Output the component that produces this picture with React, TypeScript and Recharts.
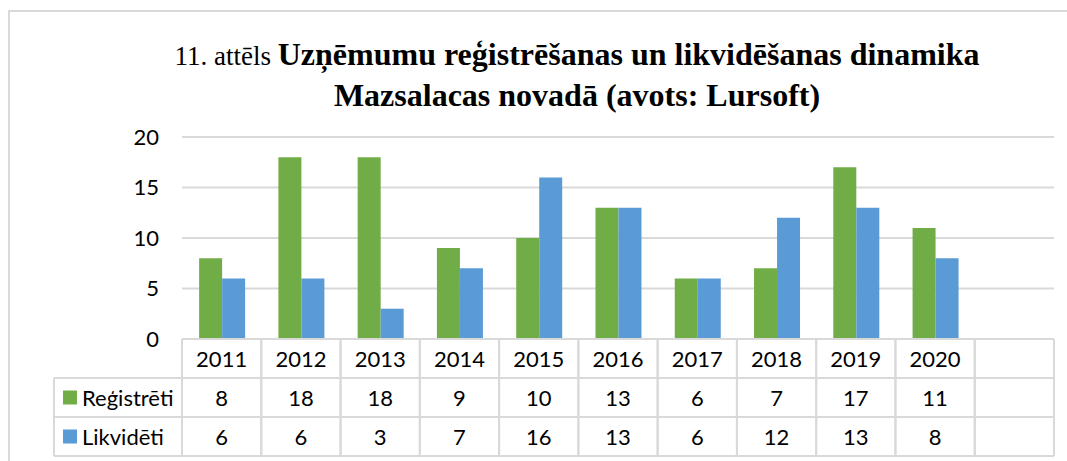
import React from 'react';
import { BarChart, Bar, XAxis, YAxis, CartesianGrid } from 'recharts';

const years = ['2011', '2012', '2013', '2014', '2015', '2016', '2017', '2018', '2019', '2020', ''];
const registreti = [8, 18, 18, 9, 10, 13, 6, 7, 17, 11, null];
const likvideti = [6, 6, 3, 7, 16, 13, 6, 12, 13, 8, null];
const yTicks = [0, 5, 10, 15, 20];

const seriesNames = ['Reģistrēti', 'Likvidēti'];
const colors = ['#70ad47', '#5b9bd5'];

const data = years.map((year, i) => ({
  year,
  registreti: registreti[i],
  likvideti: likvideti[i],
}));

const W = 1067;
const H = 461;
const margin = { top: 137, right: 13, left: 54, bottom: 5 };
const yAxisWidth = 128;
const xAxisHeight = 117;
const rowH = xAxisHeight / 3;
const colW = (W - margin.left - margin.right - yAxisWidth) / years.length;
const lineColor = '#d9d9d9';
const font = 'Lato, "Noto Sans", sans-serif';
const fs = 22;

function TableTick(props: any) {
  const { x, y, payload } = props;
  const i = payload.index;
  const left = x - colW / 2;
  const right = x + colW / 2;
  const values = [registreti[i], likvideti[i]];
  const legendLeft = left - yAxisWidth;

  return (
    <g>
      {[0, 1, 2, 3].map((r) => (
        <line key={'h' + r} x1={left} x2={right} y1={y + r * rowH} y2={y + r * rowH} stroke={lineColor} strokeWidth={2} />
      ))}
      <line x1={left} x2={left} y1={y} y2={y + xAxisHeight} stroke={lineColor} strokeWidth={2} />
      <line x1={right} x2={right} y1={y} y2={y + xAxisHeight} stroke={lineColor} strokeWidth={2} />
      <text x={x} y={y + rowH / 2} textAnchor="middle" dominantBaseline="central" fontSize={fs} fontFamily={font} fill="#000">
        {payload.value}
      </text>
      {values.map((v, r) => (
        <text key={'v' + r} x={x} y={y + rowH * (r + 1.5)} textAnchor="middle" dominantBaseline="central" fontSize={fs} fontFamily={font} fill="#000">
          {v == null ? '' : v}
        </text>
      ))}
      {i === 0 && (
        <g>
          {[1, 2, 3].map((r) => (
            <line key={'lh' + r} x1={legendLeft} x2={left} y1={y + r * rowH} y2={y + r * rowH} stroke={lineColor} strokeWidth={2} />
          ))}
          <line x1={legendLeft} x2={legendLeft} y1={y + rowH} y2={y + xAxisHeight} stroke={lineColor} strokeWidth={2} />
          {seriesNames.map((name, r) => (
            <g key={name}>
              <rect x={legendLeft + 9} y={y + rowH * (r + 1.5) - 7} width={14} height={14} fill={colors[r]} />
              <text x={legendLeft + 28} y={y + rowH * (r + 1.5)} dominantBaseline="central" fontSize={fs} fontFamily={font} fill="#000">
                {name}
              </text>
            </g>
          ))}
        </g>
      )}
    </g>
  );
}

export default function App() {
  return (
    <div style={{ position: 'absolute', left: 0, top: 0, width: W, height: H, background: '#fff' }}>
      <div
        style={{
          position: 'absolute',
          left: 8,
          top: 10,
          width: W,
          height: H,
          border: '2px solid ' + lineColor,
          boxSizing: 'border-box',
        }}
      />
      <div
        style={{
          position: 'absolute',
          left: 80,
          top: 35,
          width: 994,
          textAlign: 'center',
          fontFamily: '"Liberation Serif", "Times New Roman", serif',
          fontSize: 32,
          lineHeight: '39px',
          color: '#000',
        }}
      >
        <span style={{ fontSize: 27 }}>11. attēls </span>
        <b>Uzņēmumu reģistrēšanas un likvidēšanas dinamika</b>
        <br />
        <b>Mazsalacas novadā (avots: Lursoft)</b>
      </div>
      <BarChart
        width={W}
        height={H}
        data={data}
        margin={margin}
        barCategoryGap="21.6%"
        barGap={0}
        style={{ position: 'absolute', left: 0, top: 0 }}
      >
        <CartesianGrid vertical={false} stroke={lineColor} strokeWidth={2} />
        <YAxis
          width={yAxisWidth}
          domain={[0, 20]}
          ticks={yTicks}
          axisLine={false}
          tickLine={false}
          tickSize={0}
          tickMargin={23}
          tick={{ fontSize: fs, fontFamily: font, fill: '#000' }}
        />
        <XAxis
          dataKey="year"
          height={xAxisHeight}
          axisLine={false}
          tickLine={false}
          tickSize={0}
          tickMargin={0}
          interval={0}
          tick={<TableTick />}
        />
        <Bar dataKey="registreti" name={seriesNames[0]} fill={colors[0]} isAnimationActive={false} />
        <Bar dataKey="likvideti" name={seriesNames[1]} fill={colors[1]} isAnimationActive={false} />
      </BarChart>
    </div>
  );
}
